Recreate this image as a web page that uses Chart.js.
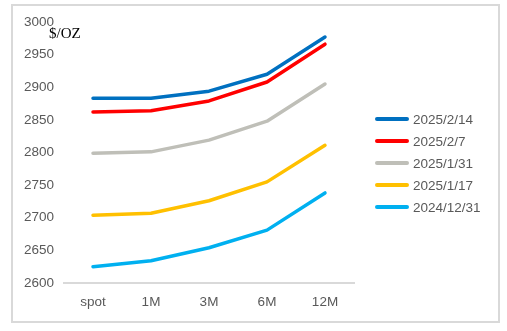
<!DOCTYPE html>
<html>
<head>
<meta charset="utf-8">
<script src="https://cdn.jsdelivr.net/npm/chart.js@4"></script>
<style>
    html, body { margin: 0; padding: 0; background: #fff; }
    #wrap { width: 507px; height: 331px; }
</style>
</head>
<body>
<div id="wrap"><canvas id="chart" width="507" height="331"></canvas></div>
<script>
// 期限结构：各日期的金价曲线
const tenors = ['spot', '1M', '3M', '6M', '12M'];
const seriesLabels = ['2025/2/14', '2025/2/7', '2025/1/31', '2025/1/17', '2024/12/31'];
const seriesColors = ['#0070C0', '#FF0000', '#BFBFB8', '#FFC000', '#00B0F0'];

const s20250214 = [2883, 2883, 2894, 2920, 2977];
const s20250207 = [2862, 2864, 2879, 2908, 2966];
const s20250131 = [2799, 2801, 2819, 2848, 2905];
const s20250117 = [2704, 2707, 2726, 2755, 2811];
const s20241231 = [2625, 2634, 2654, 2681, 2738];

const yMin = 2600;
const yMax = 3000;
const yStep = 50;
const unitLabel = '$/OZ';

const seriesValues = [s20250214, s20250207, s20250131, s20250117, s20241231];

const tickFont = { family: 'Liberation Sans', size: 13.5 };
const tickColor = '#595959';

// 外框 + 单位文字 + 右侧图例
const decorPlugin = {
    id: 'decor',
    beforeDraw(chart) {
        const ctx = chart.ctx;
        ctx.save();
        ctx.fillStyle = '#ffffff';
        ctx.fillRect(0, 0, chart.width, chart.height);
        ctx.strokeStyle = '#d9d9d9';
        ctx.lineWidth = 2;
        ctx.strokeRect(12, 5, 487, 317);
        ctx.restore();
    },
    afterDraw(chart) {
        const ctx = chart.ctx;
        ctx.save();
        ctx.font = '15px "Liberation Serif"';
        ctx.fillStyle = '#000';
        ctx.textBaseline = 'middle';
        ctx.fillText(unitLabel, 49, 34);

        ctx.font = '13.5px "Liberation Sans"';
        chart.data.datasets.forEach((ds, i) => {
            const y = 119 + i * 22;
            ctx.strokeStyle = ds.borderColor;
            ctx.lineWidth = 4;
            ctx.lineCap = 'round';
            ctx.beginPath();
            ctx.moveTo(377, y);
            ctx.lineTo(407, y);
            ctx.stroke();
            ctx.fillStyle = tickColor;
            ctx.fillText(ds.label, 413, y + 1);
        });
        ctx.restore();
    }
};

const datasets = seriesLabels.map((label, i) => ({
    label: label,
    data: seriesValues[i],
    borderColor: seriesColors[i],
    backgroundColor: seriesColors[i],
    borderWidth: 3.5,
    pointRadius: 0,
    tension: 0,
    borderCapStyle: 'round',
    borderJoinStyle: 'round'
}));

new Chart(document.getElementById('chart'), {
    type: 'line',
    data: { labels: tenors, datasets: datasets },
    options: {
        responsive: false,
        animation: false,
        devicePixelRatio: 1,
        layout: { padding: { left: 0, top: 22, right: 153, bottom: 0 } },
        plugins: {
            legend: { display: false },
            tooltip: { enabled: false }
        },
        scales: {
            x: {
                offset: true,
                grid: { display: false, drawTicks: false },
                border: { display: true, color: '#d9d9d9', width: 2 },
                ticks: { color: tickColor, font: tickFont, padding: 11, maxRotation: 0 },
                afterFit: (scale) => { scale.height = 48; }
            },
            y: {
                min: yMin,
                max: yMax,
                grid: { display: false, drawTicks: false },
                border: { display: false },
                ticks: {
                    stepSize: yStep,
                    color: tickColor,
                    font: tickFont,
                    padding: 10,
                    callback: (v) => String(v)
                },
                afterFit: (scale) => { scale.width = 64; }
            }
        }
    },
    plugins: [decorPlugin]
});
</script>
</body>
</html>
